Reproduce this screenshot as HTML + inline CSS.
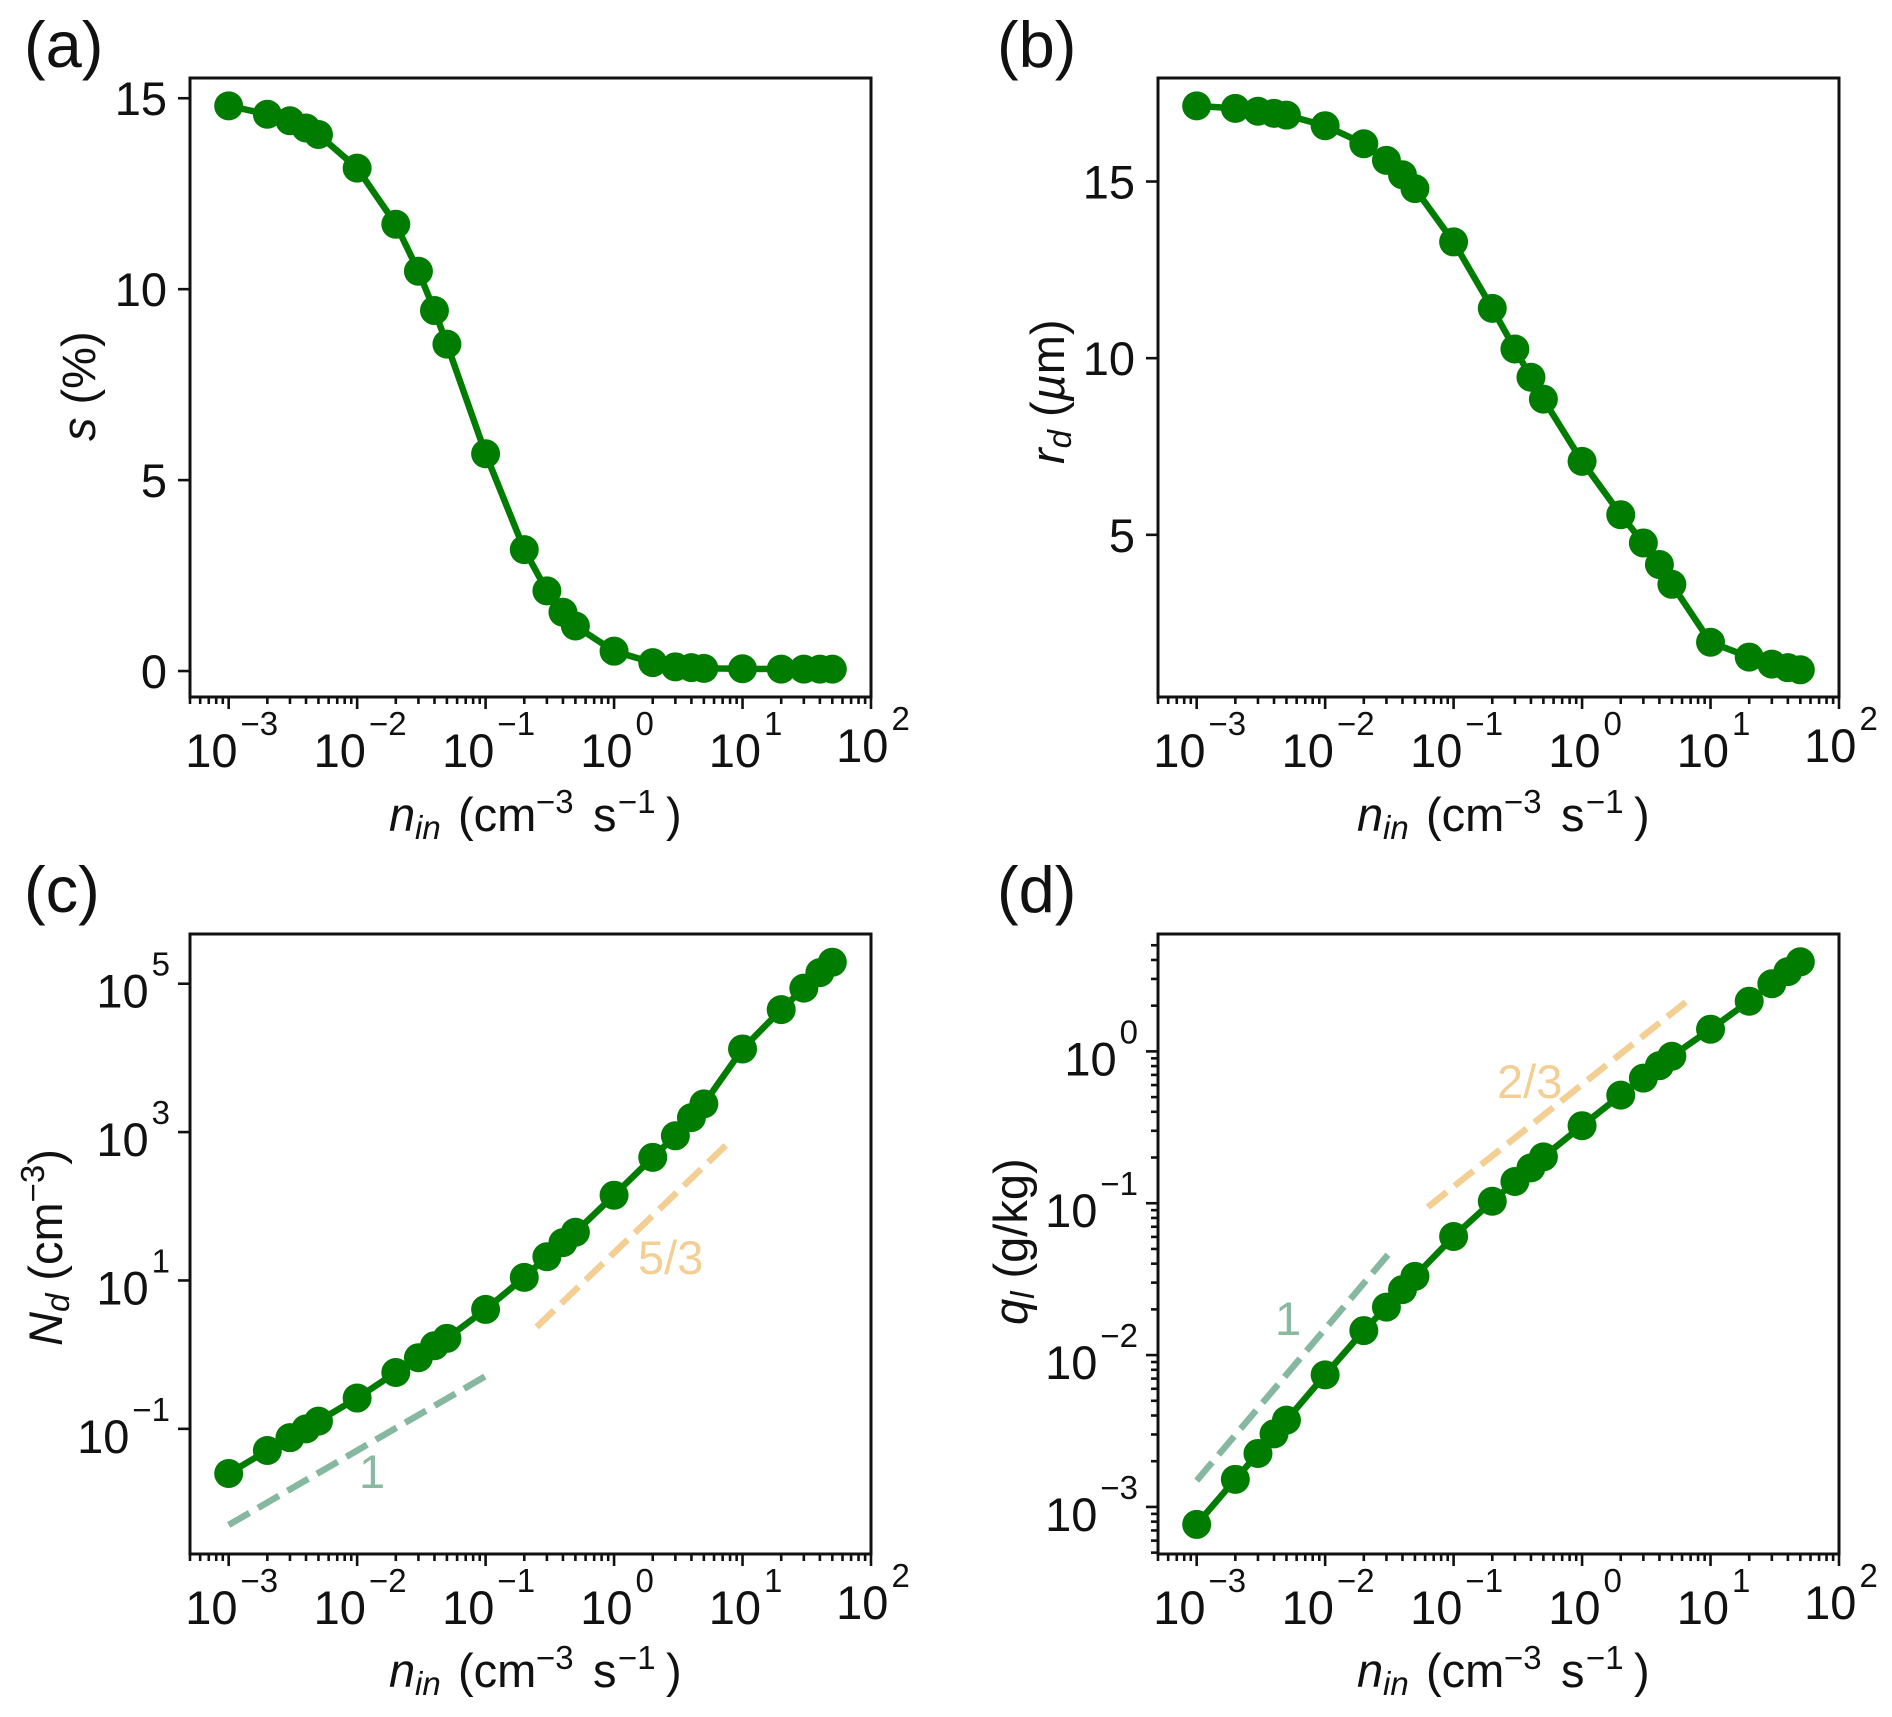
<!DOCTYPE html>
<html lang="en">
<head>
<meta charset="utf-8">
<title>Four panel log-scale chart</title>
<style>
  html, body { margin: 0; padding: 0; background: #ffffff; }
  svg { display: block; font-family: "Liberation Sans", Arial, sans-serif; fill: #111; }
  .axis-label { font-size: 47px; }
  .tick-label { font-size: 47px; }
  .panel-letter { font-size: 65px; }
  .note { font-size: 47px; }
  .it { font-style: italic; }
</style>
</head>
<body>
<svg id="figure" width="1892" height="1717" viewBox="0 0 1892 1717" xmlns="http://www.w3.org/2000/svg">
  <rect x="0" y="0" width="1892" height="1717" fill="#ffffff"/>

  <text class="panel-letter" x="24" y="67">(a)</text>
  <text class="panel-letter" x="997" y="67">(b)</text>
  <text class="panel-letter" x="24" y="912">(c)</text>
  <text class="panel-letter" x="997" y="912">(d)</text>

  <g transform="translate(190,0)">
    <text class="axis-label" y="831"><tspan class="it" x="199">n</tspan><tspan class="it" x="225" y="839" font-size="33">in</tspan><tspan x="268" y="831">(cm</tspan><tspan x="346" y="813" font-size="33">−3</tspan><tspan x="403" y="831">s</tspan><tspan x="428" y="813" font-size="33">−1</tspan><tspan x="476" y="831">)</tspan></text>
  </g>
  <g transform="translate(1158,0)">
    <text class="axis-label" y="831"><tspan class="it" x="199">n</tspan><tspan class="it" x="225" y="839" font-size="33">in</tspan><tspan x="268" y="831">(cm</tspan><tspan x="346" y="813" font-size="33">−3</tspan><tspan x="403" y="831">s</tspan><tspan x="428" y="813" font-size="33">−1</tspan><tspan x="476" y="831">)</tspan></text>
  </g>
  <g transform="translate(190,0)">
    <text class="axis-label" y="1687"><tspan class="it" x="199">n</tspan><tspan class="it" x="225" y="1695" font-size="33">in</tspan><tspan x="268" y="1687">(cm</tspan><tspan x="346" y="1669" font-size="33">−3</tspan><tspan x="403" y="1687">s</tspan><tspan x="428" y="1669" font-size="33">−1</tspan><tspan x="476" y="1687">)</tspan></text>
  </g>
  <g transform="translate(1158,0)">
    <text class="axis-label" y="1687"><tspan class="it" x="199">n</tspan><tspan class="it" x="225" y="1695" font-size="33">in</tspan><tspan x="268" y="1687">(cm</tspan><tspan x="346" y="1669" font-size="33">−3</tspan><tspan x="403" y="1687">s</tspan><tspan x="428" y="1669" font-size="33">−1</tspan><tspan x="476" y="1687">)</tspan></text>
  </g>

  <text class="axis-label" transform="translate(95,441) rotate(-90)"><tspan class="it">s</tspan><tspan dx="13">(%)</tspan></text>
  <text class="axis-label" transform="translate(1064,464) rotate(-90)"><tspan class="it">r</tspan><tspan class="it" font-size="33" dy="7">d</tspan><tspan dx="13" dy="-7">(</tspan><tspan class="it">µ</tspan><tspan>m)</tspan></text>
  <text class="axis-label" transform="translate(62,1346) rotate(-90)"><tspan class="it">N</tspan><tspan class="it" font-size="33" dy="7">d</tspan><tspan dx="13" dy="-7">(cm</tspan><tspan font-size="33" dy="-18">−3</tspan><tspan dy="18">)</tspan></text>
  <text class="axis-label" transform="translate(1027,1325) rotate(-90)"><tspan class="it">q</tspan><tspan class="it" font-size="33" dy="7">l</tspan><tspan dx="13" dy="-7">(g/kg)</tspan></text>

  <g id="plots"></g>

  <text class="note" x="359" y="1488" fill="#8ab9a2">1</text>
  <text class="note" x="638" y="1274" fill="#f3cf94">5/3</text>
  <text class="note" x="1275" y="1335" fill="#8ab9a2">1</text>
  <text class="note" x="1497" y="1098" fill="#f3cf94">2/3</text>
</svg>

<script>
const nIn = [0.001, 0.002, 0.003, 0.004, 0.005, 0.01, 0.02, 0.03, 0.04, 0.05, 0.1, 0.2, 0.3, 0.4, 0.5, 1, 2, 3, 4, 5, 10, 20, 30, 40, 50];
const sValues = [14.80, 14.58, 14.41, 14.22, 14.05, 13.17, 11.70, 10.47, 9.44, 8.56, 5.69, 3.18, 2.10, 1.54, 1.18, 0.52, 0.22, 0.11, 0.09, 0.07, 0.06, 0.05, 0.05, 0.05, 0.05];
const rdValues = [17.14, 17.07, 16.99, 16.93, 16.88, 16.58, 16.07, 15.6, 15.19, 14.8, 13.29, 11.41, 10.26, 9.46, 8.84, 7.08, 5.57, 4.77, 4.16, 3.6, 1.96, 1.54, 1.34, 1.24, 1.18];
const ndValues = [0.025, 0.051, 0.076, 0.1, 0.127, 0.26, 0.575, 0.91, 1.32, 1.66, 4.07, 11, 20.9, 32.4, 44.7, 141, 457, 891, 1567, 2400, 13200, 44700, 87100, 141000, 195000];
const qlValues = [0.000767, 0.00152, 0.00225, 0.00303, 0.00373, 0.00741, 0.0145, 0.0207, 0.027, 0.033, 0.0604, 0.103, 0.139, 0.171, 0.202, 0.324, 0.515, 0.667, 0.805, 0.929, 1.40, 2.14, 2.79, 3.35, 3.89];

const xTickExponents = [-3, -2, -1, 0, 1, 2];
const sTicks = [0, 5, 10, 15];
const rdTicks = [5, 10, 15];
const ndTickExponents = [-1, 1, 3, 5];
const qlTickExponents = [-3, -2, -1, 0];

const ndSlope1X = [0.001, 0.1];
const ndSlope1Y = [0.00507, 0.513];
const ndSlope53X = [0.25, 7.8];
const ndSlope53Y = [2.36, 720];
const qlSlope1X = [0.001, 0.0311];
const qlSlope1Y = [0.00149, 0.0462];
const qlSlope23X = [0.0631, 6.41];
const qlSlope23Y = [0.0944, 2.11];

const SVG_NS = 'http://www.w3.org/2000/svg';
const plotsRoot = document.getElementById('plots');
const GREEN = '#007d00';
const INK = '#111111';
const SAGE = '#86b8a0';
const SAND = '#f3cf94';

function node(tag, parent, attrs) {
  const el = document.createElementNS(SVG_NS, tag);
  for (const k in attrs) el.setAttribute(k, attrs[k]);
  parent.appendChild(el);
  return el;
}

function logScale(domain, range) {
  const a = Math.log10(domain[0]);
  const b = Math.log10(domain[1]);
  return v => range[0] + (Math.log10(v) - a) / (b - a) * (range[1] - range[0]);
}

function linScale(domain, range) {
  return v => range[0] + (v - domain[0]) / (domain[1] - domain[0]) * (range[1] - range[0]);
}

function powerLabel(parent, exponent, x, y, anchor, name) {
  const t = node('text', parent, { class: 'tick-label', x: x, y: y, 'text-anchor': anchor });
  
  
  t.appendChild(document.createTextNode('10'));
  const sup = node('tspan', t, { dy: -32, dx: 3, 'font-size': 33 });
  sup.textContent = String(exponent).replace('-', '\u2212');
  return t;
}

function drawPanel(cfg) {
  const g = node('g', plotsRoot, {});
  
  

  const left = cfg.left, right = left + 681, top = cfg.top, bottom = cfg.bottom;
  const sx = logScale([0.0005, 100], [left, right]);
  const sy = cfg.log ? logScale(cfg.yDomain, [bottom, top]) : linScale(cfg.yDomain, [bottom, top]);

  const ticks = node('g', g, { stroke: INK, 'stroke-width': 2.6, fill: 'none' });
  
  

  for (let e = -4; e < 2; e++) {
    for (let m = 2; m <= 9; m++) {
      const v = m * Math.pow(10, e);
      if (v < 0.0005) continue;
      const x = sx(v);
      const minor = node('line', ticks, { x1: x, x2: x, y1: bottom, y2: bottom + 7 });
      
      
    }
  }

  xTickExponents.forEach(e => {
    const x = sx(Math.pow(10, e));
    const major = node('line', ticks, { x1: x, x2: x, y1: bottom, y2: bottom + 12 });
    
    
    const lift = e === 2 ? -5 : 0;
    const centre = x + (e === 2 ? 2 : 3);
    powerLabel(g, e, centre, bottom + 70 + lift, 'middle', 'x-tick-label');
  });

  if (cfg.log) {
    cfg.yTicks.forEach(e => {
      const y = sy(Math.pow(10, e));
      const major = node('line', ticks, { x1: left, x2: left - 12, y1: y, y2: y });
      
      
      powerLabel(g, e, left - 20, y + 24, 'end', 'y-tick-label');
    });
    if (cfg.yMinor) {
      for (let e = -4; e < 1; e++) {
        for (let m = 2; m <= 9; m++) {
          const v = m * Math.pow(10, e);
          if (v < cfg.yDomain[0] || v > cfg.yDomain[1]) continue;
          const y = sy(v);
          const minor = node('line', ticks, { x1: left, x2: left - 7, y1: y, y2: y });
          
          
        }
      }
    }
  } else {
    cfg.yTicks.forEach(v => {
      const y = sy(v);
      const major = node('line', ticks, { x1: left, x2: left - 12, y1: y, y2: y });
      
      
      const t = node('text', g, { class: 'tick-label', x: left - 23, y: y + 17, 'text-anchor': 'end' });
      
      
      t.textContent = String(v);
    });
  }

  (cfg.guides || []).forEach(guide => {
    const pts = guide.x.map((v, i) => sx(v).toFixed(2) + ',' + sy(guide.y[i]).toFixed(2)).join(' ');
    const dash = node('polyline', g, { points: pts, fill: 'none', stroke: guide.color, 'stroke-width': 6.5, 'stroke-dasharray': '24 10' });
    
    
  });

  const linePts = nIn.map((v, i) => sx(v).toFixed(2) + ',' + sy(cfg.values[i]).toFixed(2)).join(' ');
  const line = node('polyline', g, { points: linePts, fill: 'none', stroke: GREEN, 'stroke-width': 6.5, 'stroke-linejoin': 'round' });
  
  

  nIn.forEach((v, i) => {
    const dot = node('circle', g, { cx: sx(v), cy: sy(cfg.values[i]), r: 14.5, fill: GREEN });
    
    
  });

  const frame = node('rect', g, { x: left, y: top, width: right - left, height: bottom - top, fill: 'none', stroke: INK, 'stroke-width': 3 });
  
  
}

drawPanel({ id: 'a', left: 190, top: 78, bottom: 697, log: false, yDomain: [-0.68, 15.53], yTicks: sTicks, values: sValues });
drawPanel({ id: 'b', left: 1158, top: 78, bottom: 697, log: false, yDomain: [0.41, 17.93], yTicks: rdTicks, values: rdValues });
drawPanel({
  id: 'c', left: 190, top: 934, bottom: 1554, log: true,
  yDomain: [Math.pow(10, -2.687), Math.pow(10, 5.67)], yTicks: ndTickExponents, values: ndValues,
  guides: [
    { x: ndSlope1X, y: ndSlope1Y, color: SAGE, name: 'slope-guide-1-panel-c' },
    { x: ndSlope53X, y: ndSlope53Y, color: SAND, name: 'slope-guide-5-3-panel-c' }
  ]
});
drawPanel({
  id: 'd', left: 1158, top: 934, bottom: 1554, log: true, yMinor: true,
  yDomain: [Math.pow(10, -3.31), Math.pow(10, 0.773)], yTicks: qlTickExponents, values: qlValues,
  guides: [
    { x: qlSlope1X, y: qlSlope1Y, color: SAGE, name: 'slope-guide-1-panel-d' },
    { x: qlSlope23X, y: qlSlope23Y, color: SAND, name: 'slope-guide-2-3-panel-d' }
  ]
});
</script>
</body>
</html>
